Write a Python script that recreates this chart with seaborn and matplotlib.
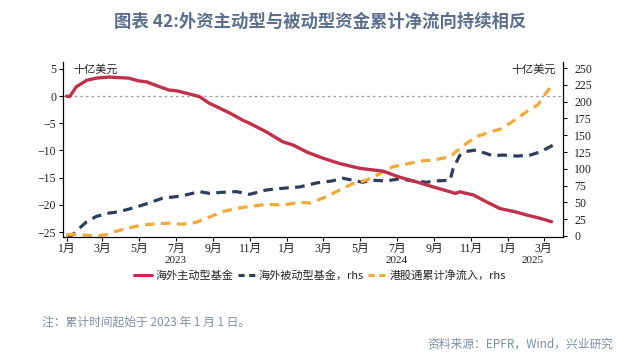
import pandas as pd
import matplotlib.pyplot as plt
import matplotlib.transforms as mtrans
from matplotlib.lines import Line2D
import seaborn as sns

# 海外主动型基金 (十亿美元, lhs)
active_dates = ["2023-01-01", "2023-01-06", "2023-01-17", "2023-02-03", "2023-02-19",
                "2023-03-12", "2023-03-28", "2023-04-14", "2023-04-30", "2023-05-14",
                "2023-05-28", "2023-06-20", "2023-07-01", "2023-07-23", "2023-08-09",
                "2023-08-25", "2023-09-11", "2023-09-28", "2023-10-19", "2023-10-31",
                "2023-11-28", "2023-12-25", "2024-01-11", "2024-02-03", "2024-02-29",
                "2024-03-28", "2024-05-01", "2024-06-08", "2024-07-05", "2024-08-03",
                "2024-08-30", "2024-09-27", "2024-10-06", "2024-10-13", "2024-11-05",
                "2024-11-27", "2024-12-19", "2025-01-10", "2025-02-02", "2025-02-24",
                "2025-03-14"]
active_vals = [0.0, -0.1, 1.7, 2.9, 3.3, 3.5, 3.4, 3.3, 2.8, 2.6,
               2.0, 1.1, 1.0, 0.4, -0.1, -1.3, -2.2, -3.1, -4.4, -5.0,
               -6.6, -8.4, -9.0, -10.3, -11.4, -12.4, -13.3, -13.8, -14.9, -15.8,
               -16.7, -17.6, -17.9, -17.6, -18.2, -19.5, -20.7, -21.2, -21.9, -22.5,
               -23.1]

# 海外被动型基金 (rhs)
passive_dates = ["2023-01-01", "2023-01-11", "2023-01-23", "2023-02-03", "2023-02-19",
                 "2023-03-12", "2023-03-28", "2023-04-14", "2023-04-30", "2023-05-17",
                 "2023-06-08", "2023-07-01", "2023-07-17", "2023-08-09", "2023-08-25",
                 "2023-09-16", "2023-10-09", "2023-10-31", "2023-11-28", "2023-12-25",
                 "2024-01-22", "2024-02-19", "2024-03-16", "2024-04-02", "2024-04-19",
                 "2024-05-05", "2024-05-21", "2024-06-14", "2024-07-05", "2024-07-27",
                 "2024-08-19", "2024-09-05", "2024-09-27", "2024-10-02", "2024-10-13",
                 "2024-10-24", "2024-11-10", "2024-11-20", "2024-12-07", "2024-12-23",
                 "2025-01-16", "2025-02-07", "2025-02-24", "2025-03-16"]
passive_vals = [0, 1.5, 12, 21, 29, 34, 36, 40, 44, 49,
                56, 58.5, 61, 66, 63.5, 65, 66, 62, 68.5, 71,
                73, 79, 82, 86, 83, 80, 83, 82, 85, 82,
                80, 82, 83, 100, 120, 126, 128, 124.5, 119.5, 120.5,
                119, 120.5, 125.5, 135]

# 港股通累计净流入 (rhs)
south_dates = ["2023-01-01", "2023-01-11", "2023-01-28", "2023-02-19", "2023-03-06",
               "2023-03-22", "2023-04-14", "2023-05-05", "2023-05-28", "2023-06-20",
               "2023-07-11", "2023-08-03", "2023-08-25", "2023-09-16", "2023-10-09",
               "2023-10-31", "2023-11-28", "2023-12-25", "2024-01-22", "2024-02-08",
               "2024-03-06", "2024-03-28", "2024-04-19", "2024-05-11", "2024-06-03",
               "2024-06-24", "2024-07-16", "2024-08-08", "2024-08-30", "2024-09-27",
               "2024-10-10", "2024-10-24", "2024-11-10", "2024-12-02", "2024-12-19",
               "2024-12-30", "2025-01-16", "2025-02-02", "2025-02-19", "2025-02-28",
               "2025-03-14"]
south_vals = [1.5, 2.5, 1.5, 0, 1.5, 6.5, 12, 16, 18, 19,
              17.5, 20, 28, 36, 41, 44, 47, 46, 50, 49,
              58.5, 68.5, 78, 83, 93, 103, 107, 111.6, 113, 118,
              128, 138, 148, 155, 159, 165, 175, 186, 195, 207,
              224]

month_ticks = pd.date_range("2023-01-01", "2025-03-01", freq="2MS")
year_labels = ["2023", "2024", "2025"]
year_pos = ["2023-07-01", "2024-07-01", "2025-02-10"]

RED = "#c0304a"
NAVY = "#2e3d5c"
ORANGE = "#f2a935"
NUM_FONT = ["Liberation Serif", "Noto Sans CJK SC"]
CJK = ["Noto Sans CJK SC", "DejaVu Sans"]

sns.set_theme(style="ticks")
plt.rcParams["font.family"] = CJK

df_a = pd.DataFrame({"date": pd.to_datetime(active_dates), "v": active_vals})
df_p = pd.DataFrame({"date": pd.to_datetime(passive_dates), "v": passive_vals})
df_s = pd.DataFrame({"date": pd.to_datetime(south_dates), "v": south_vals})

fig = plt.figure(figsize=(6.4, 3.59), dpi=100)
ax = fig.add_axes([0.0984, 0.34, 0.7813, 0.487])
ax2 = ax.twinx()

ax.axhline(0, color="#999999", lw=0.9, ls=(0, (2, 2.5)), zorder=1)
sns.lineplot(data=df_p, x="date", y="v", ax=ax2, color=NAVY, lw=2.3,
             linestyle=(0, (3, 2)), zorder=2)
sns.lineplot(data=df_s, x="date", y="v", ax=ax2, color=ORANGE, lw=2.3,
             linestyle=(0, (3, 2)), zorder=2)
sns.lineplot(data=df_a, x="date", y="v", ax=ax, color=RED, lw=2.4, zorder=3)
ax.set_zorder(ax2.get_zorder() + 1)
ax.patch.set_visible(False)

ax.set_xlim(pd.Timestamp("2022-12-26"), pd.Timestamp("2025-04-02"))
ax.set_ylim(-25.9, 6.25)
ax2.set_ylim(-1.5, 259)
ax.set_yticks(range(-25, 6, 5))
ax2.set_yticks(range(0, 251, 25))

ax.set_xticks(month_ticks)
ax.set_xticklabels([f"{d.month}月" for d in month_ticks])
ax.set_xticks(pd.to_datetime(["2024-01-01", "2025-01-01"]), minor=True)
ax.tick_params(axis="x", which="minor", length=8, width=0.8, direction="out", color="black")
ax.tick_params(axis="x", which="major", length=3, width=0.8, color="black", pad=1.5)
ax.tick_params(axis="y", length=3, width=0.8, color="black", pad=2)
ax2.tick_params(axis="y", length=3, width=0.8, color="black", pad=5)

for a in (ax, ax2):
    a.set_xlabel("")
    a.set_ylabel("")
    a.spines["top"].set_visible(False)
    for s in ("left", "right", "bottom"):
        a.spines[s].set_color("black")
        a.spines[s].set_linewidth(0.8)
    for lab in a.get_xticklabels() + a.get_yticklabels():
        lab.set_fontfamily(NUM_FONT)
        lab.set_fontsize(8.5)
        lab.set_color("#222222")

trans = mtrans.blended_transform_factory(ax.transData, ax.transAxes)
for lab, pos in zip(year_labels, year_pos):
    ax.text(pd.Timestamp(pos), -0.11, lab, transform=trans, ha="center", va="top",
            fontsize=8, family=NUM_FONT, color="#222222")

ax.text(0.02, 0.955, "十亿美元", transform=ax.transAxes, fontsize=8, ha="left",
        va="center", color="#222222")
ax.text(0.985, 0.955, "十亿美元", transform=ax.transAxes, fontsize=8, ha="right",
        va="center", color="#222222")

handles = [Line2D([], [], color=RED, lw=2.2),
           Line2D([], [], color=NAVY, lw=2.2, ls=(0, (2, 1.5))),
           Line2D([], [], color=ORANGE, lw=2.2, ls=(0, (2, 1.5)))]
labels = ["海外主动型基金", "海外被动型基金，rhs", "港股通累计净流入，rhs"]
fig.legend(handles, labels, loc="center", bbox_to_anchor=(0.5, 0.232), ncol=3,
           frameon=False, fontsize=8, handlelength=1.6, handletextpad=0.3,
           columnspacing=0.4)

fig.text(0.5, 0.94, "图表 42:外资主动型与被动型资金累计净流向持续相反", ha="center",
         va="center", fontsize=12.5, fontweight="bold", color="#5a6f8e")
fig.text(0.066, 0.103, "注：累计时间起始于 2023 年 1 月 1 日。", ha="left", va="center",
         fontsize=8.5, color="#7f8ea5")
fig.text(0.958, 0.04, "资料来源：EPFR，Wind，兴业研究", ha="right", va="center",
         fontsize=8.5, color="#7f8ea5")

fig.savefig("out.png", dpi=100)
